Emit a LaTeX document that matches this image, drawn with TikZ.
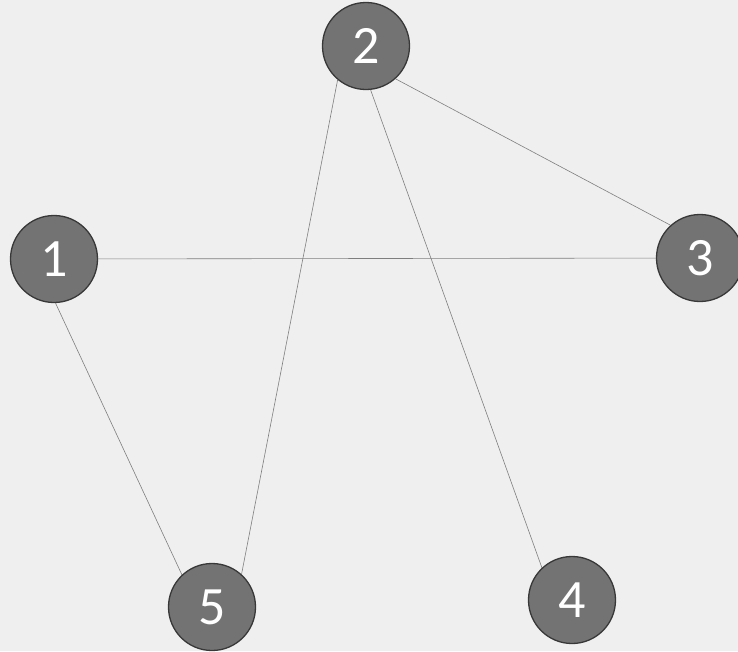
\documentclass[tikz,border=0pt]{standalone}
\usepackage{fontspec}
\setmainfont{Carlito}
\usepackage{xcolor}
\usetikzlibrary{positioning}
\definecolor{Paper}{HTML}{EFEFEF}
\definecolor{Disc}{HTML}{737373}
\definecolor{Rim}{HTML}{383838}
\definecolor{Wire}{HTML}{7E7E7E}

\begin{document}
\begin{tikzpicture}[
  x=1pt,y=-1pt,
  vertex/.style={circle,draw=Rim,fill=Disc,line width=1.3pt,minimum size=87pt,inner sep=0pt,text=white,font=\fontsize{54}{54}\selectfont},
  edge/.style={draw=Wire,line width=.6pt}
]
\fill[Paper] (0,0) rectangle (738,651);
\useasboundingbox (0,0) rectangle (738,651);
\node[vertex] (n1) at (54,259) {1};
\node[vertex] (n2) at (366,46) {2};
\node[vertex] (n3) at (700,258) {3};
\node[vertex] (n4) at (572,600) {4};
\node[vertex] (n5) at (212,607) {5};

\draw[edge] (n1)--(n3); \draw[edge] (n1.272)--(n5.133);
\draw[edge] (n2.230)--(n5.48); \draw[edge] (n2.276)--(n4.133);
\draw[edge] (n2.312)--(n3.132);
\end{tikzpicture}
\end{document}
